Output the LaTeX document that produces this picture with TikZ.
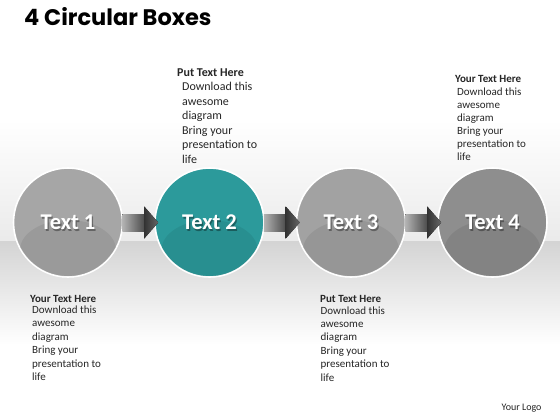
\documentclass[tikz,border=0pt]{standalone}
\usepackage{fontspec}
\setmainfont{Carlito}
\newfontfamily\titlefont{Poppins}[UprightFont=* Bold]
\usetikzlibrary{calc}
\definecolor{tealc}{HTML}{2C9A9B}
\definecolor{grayA}{HTML}{A6A6A6}
\definecolor{grayB}{HTML}{A2A2A2}
\definecolor{grayC}{HTML}{8E8E8E}
\definecolor{txtc}{HTML}{262626}
\tikzset{
  circbox/.style={circle, minimum size=109pt, inner sep=0pt, draw=white, line width=1.6pt},
  circtext/.style={text=white, font=\fontsize{22.5}{22.5}\bfseries\selectfont},
  circshadow/.style={text=black, opacity=0.35, font=\fontsize{22.5}{22.5}\bfseries\selectfont},
  headtext/.style={text=txtc, inner sep=0pt, anchor=base west},
  bodytext/.style={text=txtc, inner sep=0pt, anchor=base west},
}
\newcommand\myblock[8]{%
  \node[headtext, font=\fontsize{#7}{#7}\bfseries\selectfont] (#1h) at (#2,#3) {#8};
  \foreach \t [count=\i from 0] in {Download this, awesome, diagram, Bring your, presentation to, life}
    \node[bodytext, font=\fontsize{#7}{#7}\selectfont] (#1l\i) at (#4,{#5+\i*#6}) {\t};
}
\newcommand\myarrow[2]{%
  \fill[left color=gray!60, right color=black!70] ($(#1.east)+(-1,-8.5)$) rectangle ($(#2.west)+(-10,8.5)$);
  \fill[left color=black!80, right color=black!60] ($(#2.west)+(-10,-16)$) -- ($(#2.west)+(4,0)$) -- ($(#2.west)+(-10,16)$) -- cycle;
}
\begin{document}
\begin{tikzpicture}[x=1pt,y=-1pt]
\useasboundingbox (0,0) rectangle (560,420);
\fill[white] (0,0) rectangle (560,420);
\shade[top color=white, bottom color=black!8] (0,120) rectangle (560,241);
\shade[top color=black!17, bottom color=white] (0,241) rectangle (560,345);
% title
\node[anchor=base west, inner sep=0pt, font=\titlefont\fontsize{22.5}{22.5}\selectfont] (title) at (24,26) {4 Circular Boxes};
% circles
\foreach \n/\x/\c in {c1/68/grayA, c2/209.5/tealc, c3/351/grayB, c4/492.5/grayC}{
  \node[circbox, fill=\c] (\n) at (\x,222.5) {};
  \begin{scope}
    \clip (\x,222.5) circle (54pt);
    \fill[black, opacity=0.07] (\x,250) ellipse (48pt and 30pt);
  \end{scope}
}
\foreach \n/\t in {c1/Text 1, c2/Text 2, c3/Text 3, c4/Text 4}{
  \node[circshadow] (\n s) at ($(\n)+(1.2,1.5)$) {\t};
  \node[circtext] (\n t) at (\n) {\t};
}
\myarrow{c1}{c2}
\myarrow{c2}{c3}
\myarrow{c3}{c4}
% text blocks
\myblock{b2}{177}{77}{182}{90.7}{14.5}{12}{Put Text Here}
\myblock{b4}{455}{82.3}{457}{95.7}{12.9}{11}{Your Text Here}
\myblock{b1}{30}{302.3}{32}{313.5}{13.45}{11}{Your Text Here}
\myblock{b3}{320}{302.3}{320.5}{314}{13.4}{11}{Put Text Here}
\node[anchor=base west, inner sep=0pt, text=txtc, font=\fontsize{10}{10}\selectfont] (logo) at (501.5,410.5) {Your Logo};
\end{tikzpicture}
\end{document}
